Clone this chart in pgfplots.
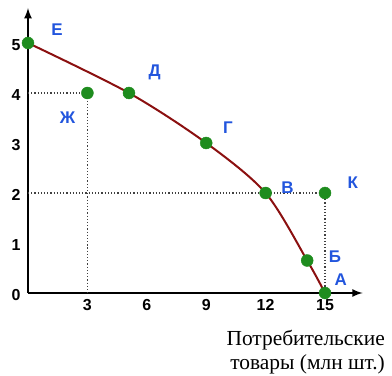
\documentclass[border=0pt]{standalone}
\usepackage{fontspec}
\setmainfont{Liberation Sans}
\newfontfamily\serif{Liberation Serif}
\usepackage{pgfplots}
\pgfplotsset{compat=1.18}
\definecolor{ppf}{HTML}{8B1010}
\definecolor{pt}{HTML}{1E8C1E}
\definecolor{lbl}{HTML}{2255DD}

\begin{document}
\begin{tikzpicture}
\useasboundingbox (-28bp,-83bp) rectangle (364bp,293bp);
\begin{axis}[
  x=19.8bp, y=50bp,
  xmin=0, xmax=16.9, ymin=0, ymax=5.7,
  axis lines=left,
  axis line style={line width=2.5bp, -latex},
  xtick={3,6,9,12,15}, ytick={0,...,5},
  major tick length=0pt,
  tick label style={font=\fontsize{16}{16}\selectfont\bfseries},
  /pgf/number format/assume math mode=true,
  xticklabel style={yshift=-3bp},
  yticklabel style={xshift=-4bp, yshift=-2bp},
  clip=false,
]
% dotted guide lines
\addplot[black!75, dotted, line width=1.2bp] coordinates {(0,4) (3,4) (3,0)};
\addplot[black!75, dotted, line width=1.2bp] coordinates {(0,2) (15,2) (15,0)};
% production possibilities curve
\addplot[ppf, line width=2bp, smooth] coordinates {
  (0,5) (5.1,4) (9,3) (12,2) (14.1,0.65) (15,0)
};
% points
\addplot[only marks, mark=*, mark size=6bp, pt] coordinates {
  (0,5) (5.1,4) (3,4) (9,3) (12,2) (15,2) (14.1,0.65) (15,0)
};
\begin{scope}[every node/.style={lbl, font=\fontsize{17}{17}\selectfont\bfseries}]
\node at (axis cs:1.46,5.26) {Е};
\node at (axis cs:6.4,4.42) {Д};
\node at (axis cs:2.0,3.5) {Ж};
\node at (axis cs:10.1,3.3) {Г};
\node at (axis cs:13.1,2.1) {В};
\node at (axis cs:16.4,2.2) {К};
\node at (axis cs:15.5,0.72) {Б};
\node at (axis cs:15.8,0.26) {А};
\end{scope}
\node[anchor=north east, align=right, font=\serif\fontsize{21.5}{24}\selectfont]
  at (axis cs:18.2,-0.68) {Потребительские\\товары (млн шт.)};
\end{axis}
\end{tikzpicture}
\end{document}
